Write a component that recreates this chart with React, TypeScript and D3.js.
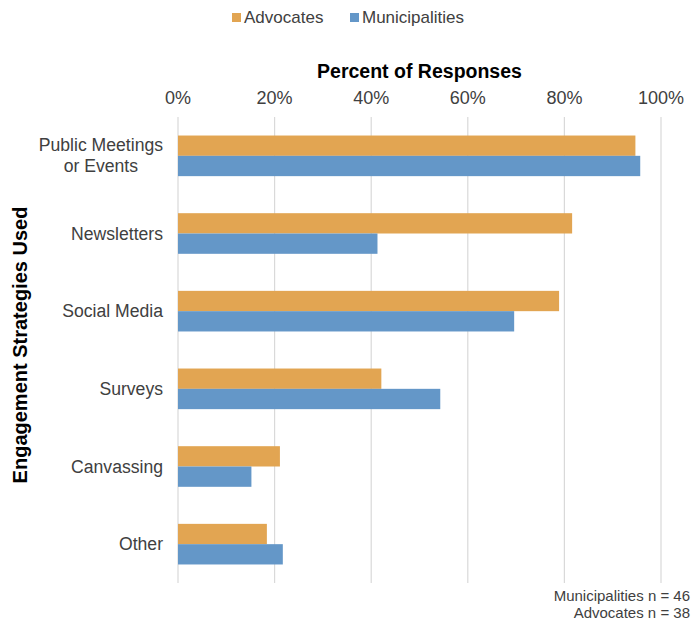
import React from "react";
import * as d3 from "d3";

const categories = ["Public Meetings\nor Events", "Newsletters", "Social Media", "Surveys", "Canvassing", "Other"];
const seriesNames = ["Advocates", "Municipalities"];
const advocates = [94.7, 81.6, 78.9, 42.1, 21.1, 18.4];
const municipalities = [95.7, 41.3, 69.6, 54.3, 15.2, 21.7];
const ticks = [0, 20, 40, 60, 80, 100];
const colors = ["#E2A552", "#6497C8"];
const footnotes = ["Municipalities n = 46", "Advocates n = 38"];

const W = 699;
const H = 625;
const FONT = "Liberation Sans, Arial, Helvetica, sans-serif";

function measure(text: string, font: string): number {
  const c = document.createElement("canvas").getContext("2d");
  if (!c) return text.length * 8;
  c.font = font;
  return c.measureText(text).width;
}

export default function App() {
  const top = 117;
  const bottom = 583;
  const x = d3.scaleLinear().domain([0, 100]).range([178, 661]);
  const y = d3.scaleBand<string>().domain(categories).range([top, bottom]).paddingInner(0.477).paddingOuter(0.2385);
  const ys = d3.scaleBand<string>().domain(seriesNames).range([0, y.bandwidth()]).padding(0);
  const values = [advocates, municipalities];
  const labelRight = 163;
  const labelSize = 17.6;
  const labelFont = `${labelSize}px ${FONT}`;

  return (
    <svg width={W} height={H} style={{ position: "absolute", left: 0, top: 0, background: "#fff" }} fontFamily={FONT}>
      {/* legend */}
      {seriesNames.map((s, i) => {
        const lx = i === 0 ? 232 : 350;
        return (
          <g key={s}>
            <rect x={lx} y={13} width={9} height={9} fill={colors[i]} />
            <text x={lx + 12} y={23} fontSize={17} fill="#404040">{s}</text>
          </g>
        );
      })}
      {/* axis title */}
      <text x={(x(0) + x(100)) / 2} y={78} fontSize={19.5} fontWeight="bold" textAnchor="middle" fill="#000">Percent of Responses</text>
      {/* tick labels + grid */}
      {ticks.map((t) => (
        <g key={t}>
          <line x1={x(t)} x2={x(t)} y1={top} y2={bottom} stroke="#d9d9d9" strokeWidth={1.2} />
          <text x={x(t)} y={104} fontSize={18} textAnchor="middle" fill="#404040">{t}%</text>
        </g>
      ))}
      {/* bars */}
      {categories.map((c, ci) => (
        <g key={c}>
          {seriesNames.map((s, si) => (
            <rect key={s} x={x(0)} y={(y(c) as number) + (ys(s) as number)} width={x(values[si][ci]) - x(0)} height={ys.bandwidth()} fill={colors[si]} />
          ))}
        </g>
      ))}
      {/* category labels */}
      {categories.map((c) => {
        const lines = c.split("\n");
        const cy = (y(c) as number) + y.bandwidth() / 2;
        const lh = 21;
        const maxW = Math.max(...lines.map((l) => measure(l, labelFont)));
        const multi = lines.length > 1;
        return (
          <text key={c} fontSize={labelSize} fill="#404040" textAnchor={multi ? "middle" : "end"}>
            {lines.map((l, li) => (
              <tspan key={li} x={multi ? labelRight - maxW / 2 : labelRight} y={cy + 6 + (li - (lines.length - 1) / 2) * lh}>{l}</tspan>
            ))}
          </text>
        );
      })}
      {/* y axis title */}
      <text transform={`translate(27, ${(top + bottom) / 2 - 5}) rotate(-90)`} fontSize={20} fontWeight="bold" textAnchor="middle" fill="#000">Engagement Strategies Used</text>
      {/* footnotes */}
      {footnotes.map((f, i) => (
        <text key={f} x={690} y={601 + i * 17} fontSize={15} textAnchor="end" fill="#404040">{f}</text>
      ))}
    </svg>
  );
}
